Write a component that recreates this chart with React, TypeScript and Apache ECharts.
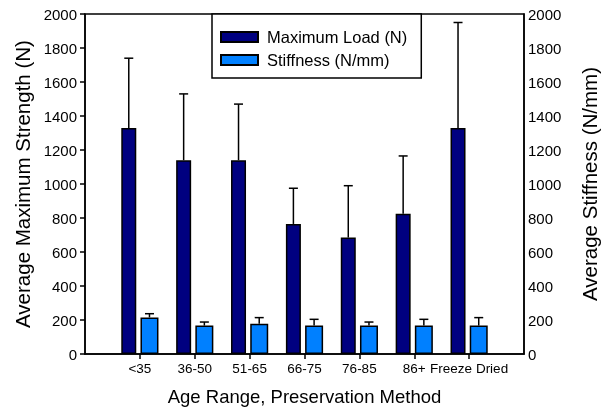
import React, { useEffect, useRef } from "react";
import * as echarts from "echarts";

const categories = ["<35", "36-50", "51-65", "66-75", "76-85", "86+", "Freeze Dried"];
const maxLoad = [1330, 1140, 1140, 765, 685, 825, 1330];
const maxLoadSD = [410, 390, 330, 210, 305, 340, 620];
const stiffness = [215, 167, 178, 167, 167, 167, 167];
const stiffnessSD = [22, 21, 36, 37, 21, 37, 47];
const yTicks = { min: 0, max: 2000, interval: 200 };

const FONT = "Liberation Sans, Arial, sans-serif";

export default function App() {
  const ref = useRef<HTMLDivElement>(null);
  useEffect(() => {
    if (!ref.current) return;
    const chart = echarts.init(ref.current, undefined, { renderer: "svg" });
    const axisCats = ["", ...categories, ""];
    const pad = (arr: number[]) => ["-", ...arr, "-"];
    const errData = (vals: number[], sd: number[]) =>
      vals.map((v, i) => [i + 1, v, v + sd[i]]);
    const makeErr = (offset: number) => (params: any, api: any) => {
      const base = api.coord([api.value(0), api.value(1)]);
      const top = api.coord([api.value(0), api.value(2)]);
      const cx = base[0] + offset;
      return {
        type: "group",
        children: [
          { type: "line", shape: { x1: cx, y1: base[1], x2: cx, y2: top[1] }, style: { stroke: "#000", lineWidth: 1.5 } },
          { type: "line", shape: { x1: cx - 4.5, y1: top[1], x2: cx + 4.5, y2: top[1] }, style: { stroke: "#000", lineWidth: 1.5 } },
        ],
      };
    };
    const yAxisCommon = {
      type: "value",
      min: yTicks.min,
      max: yTicks.max,
      interval: yTicks.interval,
      nameLocation: "middle",
      nameRotate: 90,
      splitLine: { show: false },
      axisLine: { show: true, lineStyle: { color: "#000", width: 1.5 } },
    };
    const plain = (v: number) => String(v);
    chart.setOption({
      animation: false,
      textStyle: { fontFamily: FONT },
      grid: { left: 85, right: 79, top: 14, bottom: 65, show: true, borderColor: "#000", borderWidth: 1.5, containLabel: false },
      legend: {
        orient: "vertical",
        left: 212,
        top: 14,
        padding: [14, 14, 9, 8],
        itemGap: 5,
        itemWidth: 37,
        itemHeight: 10,
        icon: "rect",
        borderColor: "#000",
        borderWidth: 1.5,
        backgroundColor: "#fff",
        textStyle: { fontSize: 16.5, color: "#000", fontFamily: FONT, lineHeight: 18, padding: [0, 0, 0, 4] },
        data: ["Maximum Load (N)", "Stiffness (N/mm)"],
      },
      xAxis: {
        type: "category",
        data: axisCats,
        boundaryGap: false,
        name: "Age Range, Preservation Method",
        nameLocation: "middle",
        nameGap: 33,
        nameTextStyle: { fontSize: 18.5, color: "#000", fontFamily: FONT },
        axisLine: { show: true, lineStyle: { color: "#000", width: 1.5 } },
        axisTick: { show: true, length: 5, lineStyle: { color: "#000", width: 1.5 }, interval: (i: number) => i > 0 && i < axisCats.length - 1 },
        axisLabel: { interval: 0, fontSize: 13.5, color: "#000", margin: 7, fontFamily: FONT },
        splitLine: { show: false },
      },
      yAxis: [
        {
          ...yAxisCommon,
          position: "left",
          name: "Average Maximum Strength (N)",
          nameGap: 52,
          nameTextStyle: { fontSize: 20.5, color: "#000", fontFamily: FONT },
          axisTick: { show: true, length: 5, lineStyle: { color: "#000", width: 1.5 } },
          axisLabel: { fontSize: 15, color: "#000", margin: 8, fontFamily: FONT, formatter: plain },
        },
        {
          ...yAxisCommon,
          position: "right",
          name: "Average Stiffness (N/mm)",
          nameGap: 55,
          nameTextStyle: { fontSize: 20.5, color: "#000", fontFamily: FONT },
          axisTick: { show: false },
          axisLabel: { fontSize: 15, color: "#000", margin: 4, fontFamily: FONT, formatter: plain },
        },
      ],
      series: [
        {
          name: "Maximum Load (N)",
          type: "bar",
          yAxisIndex: 0,
          data: pad(maxLoad),
          barWidth: 15,
          barGap: "28%",
          itemStyle: { color: "#000080", borderColor: "#000", borderWidth: 1.5 },
        },
        {
          name: "Stiffness (N/mm)",
          type: "bar",
          yAxisIndex: 1,
          data: pad(stiffness),
          barWidth: 18,
          barGap: "28%",
          itemStyle: { color: "#0080ff", borderColor: "#000", borderWidth: 1.5 },
        },
        {
          type: "custom",
          yAxisIndex: 0,
          renderItem: makeErr(-11.1),
          encode: { x: 0, y: [1, 2] },
          data: errData(maxLoad, maxLoadSD),
          z: 3,
        },
        {
          type: "custom",
          yAxisIndex: 1,
          renderItem: makeErr(9.6),
          encode: { x: 0, y: [1, 2] },
          data: errData(stiffness, stiffnessSD),
          z: 3,
        },
      ],
    });
    return () => chart.dispose();
  }, []);
  return <div ref={ref} style={{ position: "fixed", left: 0, top: 0, width: 608, height: 419 }} />;
}
